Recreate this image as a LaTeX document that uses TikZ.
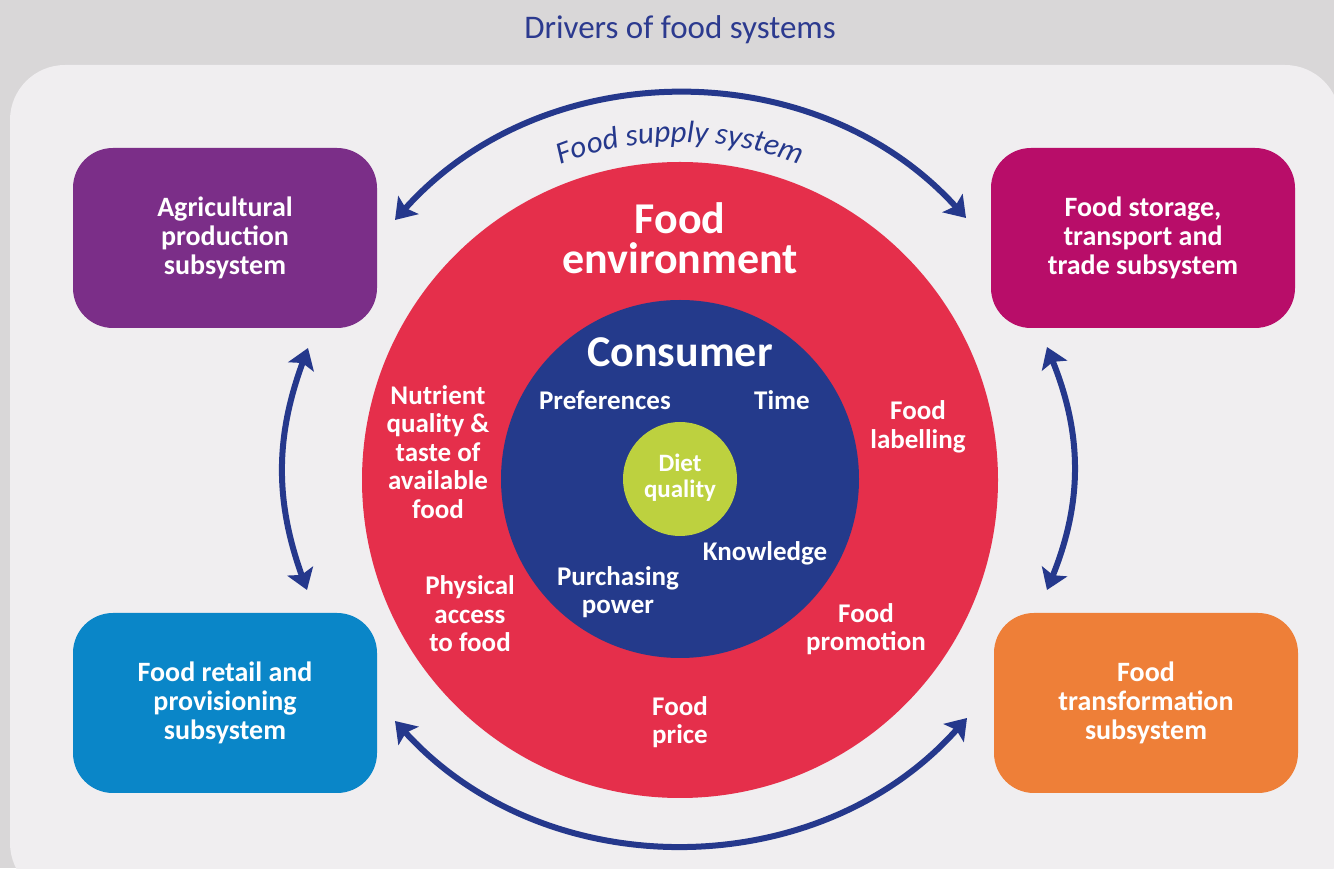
\documentclass[tikz,border=0pt]{standalone}
\usepackage{fontspec}
\setmainfont{Carlito}
\usetikzlibrary{arrows.meta, decorations.text}

\definecolor{bggrey}{HTML}{D9D7D8}
\definecolor{panelgrey}{HTML}{F0EEF0}
\definecolor{titleblue}{HTML}{2C3A8F}
\definecolor{arrowblue}{HTML}{25388C}
\definecolor{agripurple}{HTML}{7B2E88}
\definecolor{trademagenta}{HTML}{B80D69}
\definecolor{retailblue}{HTML}{0A86C8}
\definecolor{transorange}{HTML}{EE7F38}
\definecolor{envred}{HTML}{E52F4B}
\definecolor{consblue}{HTML}{243A8B}
\definecolor{dietgreen}{HTML}{BDD13F}

\newcommand{\supplyfont}{\fontsize{31}{31}\selectfont\itshape}

\begin{document}
\begin{tikzpicture}[
  x=1pt, y=1pt,
  box/.style={rounded corners=40pt, align=center, minimum width=304pt, minimum height=180pt,
    text=white, font=\fontsize{28}{29}\selectfont\bfseries},
  ring/.style={circle, inner sep=0pt},
  lbl/.style={align=center, text=white, font=\fontsize{27}{28.5}\selectfont\bfseries},
  big/.style={align=center, text=white, font=\fontsize{44}{40}\selectfont\bfseries},
  arr/.style={{Stealth[length=20pt, width=27pt, inset=4pt]}-{Stealth[length=20pt, width=27pt, inset=4pt]},
    line width=6pt, draw=arrowblue}
]
\useasboundingbox (0,0) rectangle (1334,868);
\clip (0,0) rectangle (1334,868);

% backdrop
\fill[bggrey] (0,0) rectangle (1334,868);
\fill[panelgrey, rounded corners=55pt] (10,-30) rectangle (1340,803);
\node[font=\fontsize{33}{33}\selectfont, text=titleblue] (title) at (680,838) {Drivers of food systems};

% rings
\node[ring, fill=envred, minimum size=636pt] (foodenv) at (680,388) {};
\node[ring, fill=consblue, minimum size=358pt] (consumer) at (680,389) {};
\node[ring, fill=dietgreen, minimum size=114pt] (diet) at (680,389) {};

% subsystems
\node[box, fill=agripurple] (agri) at (225,630) {Agricultural\\production\\subsystem};
\node[box, fill=trademagenta] (trade) at (1143,630) {Food storage,\\transport and\\trade subsystem};
\node[box, fill=retailblue] (retail) at (225,165) {Food retail and\\provisioning\\subsystem};
\node[box, fill=transorange] (transform) at (1146,165) {Food\\transformation\\subsystem};

% arrow ends
\coordinate (toptl) at (395,648);
\coordinate (toptr) at (966,650);
\coordinate (botbl) at (395,147);
\coordinate (botbr) at (967,150);
\coordinate (leftt) at (308,520);
\coordinate (leftb) at (307,278);
\coordinate (rightt) at (1047,521);
\coordinate (rightb) at (1047,278);
\coordinate (hub) at (680,398);

\draw[arr] (toptl) to[bend left=48] (toptr);
\draw[arr] (botbl) to[bend right=48] (botbr);
\draw[arr] (leftt) to[bend right=20] (leftb);
\draw[arr] (rightt) to[bend left=22] (rightb);

\path[decorate, decoration={text along path, text={|\supplyfont|Food supply system},
  text align=center, text color=arrowblue}]
  ([shift={(122:328)}]hub) arc[start angle=122, end angle=58, radius=328];

% labels
\node[big] (envlbl) at (680,630) {Food\\environment};
\node[big] (conslbl) at (680,516) {Consumer};
\node[lbl] (pref) at (605,468) {Preferences};
\node[lbl] (time) at (782,468) {Time};
\node[lbl, font=\fontsize{25}{26}\selectfont\bfseries] (dietlbl) at (680,390) {Diet\\quality};
\node[lbl] (know) at (765,315) {Knowledge};
\node[lbl] (purch) at (618,276) {Purchasing\\power};
\node[lbl] (nutri) at (438,416) {Nutrient\\quality \&\\taste of\\available\\food};
\node[lbl] (access) at (470,254) {Physical\\access\\to food};
\node[lbl] (labelling) at (918,441) {Food\\labelling};
\node[lbl] (promo) at (866,239) {Food\\promotion};
\node[lbl] (price) at (680,146) {Food\\price};
\end{tikzpicture}
\end{document}
